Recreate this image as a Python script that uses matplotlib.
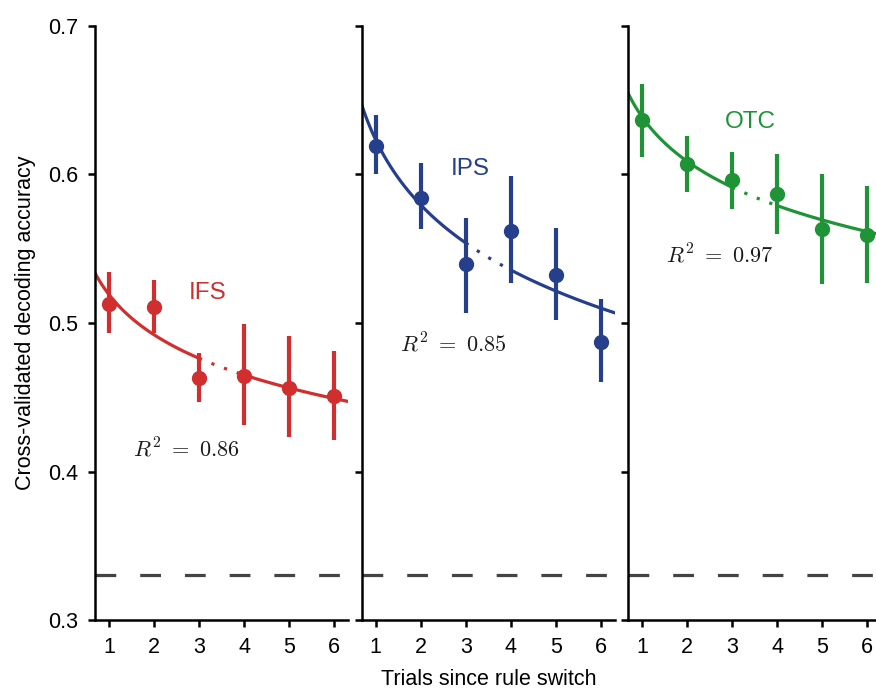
import numpy as np
import matplotlib
matplotlib.use("Agg")
import matplotlib.pyplot as plt

plt.rcParams['font.family'] = ['Liberation Sans', 'DejaVu Sans']
plt.rcParams['mathtext.fontset'] = 'cm'

# data
trials = np.array([1, 2, 3, 4, 5, 6])
regions = ["IFS", "IPS", "OTC"]
colors = ["#d12f2f", "#253f8c", "#1f9437"]

ifs_mean = [0.513, 0.511, 0.463, 0.464, 0.456, 0.451]
ifs_low = [0.493, 0.493, 0.447, 0.431, 0.423, 0.421]
ifs_high = [0.534, 0.529, 0.480, 0.499, 0.491, 0.481]

ips_mean = [0.619, 0.584, 0.540, 0.562, 0.532, 0.487]
ips_low = [0.600, 0.563, 0.507, 0.527, 0.502, 0.460]
ips_high = [0.640, 0.608, 0.571, 0.599, 0.564, 0.516]

otc_mean = [0.637, 0.607, 0.596, 0.587, 0.563, 0.559]
otc_low = [0.612, 0.588, 0.577, 0.560, 0.526, 0.527]
otc_high = [0.661, 0.626, 0.615, 0.614, 0.600, 0.592]

r2_labels = ["0.86", "0.85", "0.97"]
chance = 0.33

means = [ifs_mean, ips_mean, otc_mean]
lows = [ifs_low, ips_low, otc_low]
highs = [ifs_high, ips_high, otc_high]

name_pos = [(3.2, 0.520), (3.1, 0.604), (3.4, 0.635)]
r2_pos = [(2.73, 0.4145), (2.72, 0.485), (2.73, 0.545)]

fig = plt.figure(figsize=(8.76, 6.9), dpi=100)
lefts = [0.1084, 0.4129, 0.717]
width = 0.289
bottom, height = 0.1014, 0.861
xlim = (0.69, 6.31)

for i, name in enumerate(regions):
    ax = fig.add_axes([lefts[i], bottom, width, height])
    c = colors[i]
    m = np.array(means[i])
    lo = np.array(lows[i])
    hi = np.array(highs[i])

    # logarithmic fit of the means
    b, a = np.polyfit(np.log(trials), m, 1)
    xs1 = np.linspace(xlim[0], 3, 100)
    xs2 = np.linspace(3, 4, 50)
    xs3 = np.linspace(4, xlim[1], 100)
    ax.plot(xs1, a + b * np.log(xs1), color=c, lw=2.3, zorder=2)
    ax.plot(xs2, a + b * np.log(xs2), color=c, lw=2.3, ls=(0, (1, 3.2)), zorder=2)
    ax.plot(xs3, a + b * np.log(xs3), color=c, lw=2.3, zorder=2)

    ax.vlines(trials, lo, hi, color=c, lw=3, zorder=3)
    ax.plot(trials, m, 'o', color=c, ms=10, zorder=4)

    ax.axhline(chance, color="#444444", lw=2.3, dashes=(6.5, 7.5), zorder=1)

    ax.text(*name_pos[i], name, color=c, fontsize=17.5, ha='center', va='center')
    ax.text(*r2_pos[i], r"$R^2\ =\ " + r2_labels[i] + "$", color="#1a1a1a",
            fontsize=16, ha='center', va='center')

    ax.set_xlim(*xlim)
    ax.set_ylim(0.3, 0.7)
    ax.set_xticks(trials)
    ax.set_yticks([0.3, 0.4, 0.5, 0.6, 0.7])
    ax.spines['top'].set_visible(False)
    ax.spines['right'].set_visible(False)
    ax.spines['left'].set_linewidth(1.8)
    ax.spines['bottom'].set_linewidth(1.8)
    ax.tick_params(direction='out', length=5, width=1.8, labelsize=15.5, pad=7)
    if i == 0:
        ax.set_ylabel("Cross-validated decoding accuracy", fontsize=15.5, labelpad=9)
    else:
        ax.set_yticklabels([])
    if i == 1:
        ax.set_xlabel("Trials since rule switch", fontsize=15.5, labelpad=8)

fig.savefig("out.png", dpi=100)
